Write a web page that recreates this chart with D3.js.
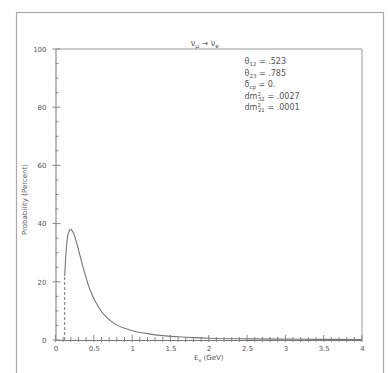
<!DOCTYPE html>
<html>
<head>
<meta charset="utf-8">
<script src="https://cdn.jsdelivr.net/npm/d3@7"></script>
<style>
  body { margin: 0; background: #fff; }
  text { font-family: "DejaVu Sans", sans-serif; fill: #555; }
</style>
</head>
<body>
<div id="chart"></div>
<script>
// energy (GeV) and oscillation probability (percent)
const energy = [0.12, 0.14, 0.17, 0.2, 0.23, 0.27, 0.32, 0.37, 0.42, 0.47, 0.52, 0.6, 0.7, 0.8, 0.9, 1.0, 1.2, 1.4, 1.6, 1.8, 2.0, 2.5, 3.0, 3.5, 4.0];
const prob = [22, 31, 37, 38, 37, 34, 29, 24, 19.6, 16, 13.2, 9.8, 7.0, 5.2, 4.0, 3.2, 2.2, 1.5, 1.1, 0.8, 0.6, 0.4, 0.3, 0.2, 0.15];
const threshold = [0.12, 22];
const xTicks = [0, 0.5, 1, 1.5, 2, 2.5, 3, 3.5, 4];
const yTicks = [0, 20, 40, 60, 80, 100];
// parameter labels: symbol, superscript, subscript, value
const paramSym = ['θ', 'θ', 'δ', 'dm', 'dm'];
const paramSup = ['', '', '', '2', '2'];
const paramSub = ['12', '23', 'cp', '32', '21'];
const paramVal = ['.523', '.785', '0.', '.0027', '.0001'];

const W = 388, H = 373;
const margin = { top: 49, right: 26, bottom: 33, left: 55.5 };
const width = W - margin.left - margin.right;
const height = H - margin.top - margin.bottom;

const root = d3.select('#chart').append('svg')
  .attr('width', W)
  .attr('height', H);

// outer frame
root.append('rect')
  .attr('x', 16.5).attr('y', 12.5)
  .attr('width', 367).attr('height', 400)
  .attr('fill', 'none')
  .attr('stroke', '#aaa')
  .attr('stroke-width', 1.2);

const svg = root.append('g')
  .attr('transform', `translate(${margin.left},${margin.top})`);

const x = d3.scaleLinear().domain([0, 4]).range([0, width]);
const y = d3.scaleLinear().domain([0, 100]).range([height, 0]);

// plot box top and right
svg.append('path')
  .attr('d', `M0,0H${width}V${height}`)
  .attr('fill', 'none')
  .attr('stroke', '#999');

// axes
const xAxis = svg.append('g')
  .attr('transform', `translate(0,${height})`)
  .call(d3.axisBottom(x).tickValues(xTicks).tickSize(0).tickPadding(6).tickFormat(d3.format('')));
const yAxis = svg.append('g')
  .call(d3.axisLeft(y).tickValues(yTicks).tickSize(0).tickPadding(9));
[xAxis, yAxis].forEach(a => {
  a.select('.domain').attr('stroke', '#777');
  a.selectAll('text').style('font-size', '7px').attr('fill', '#666');
});

// major ticks crossing the axes, minor ticks inside
svg.selectAll('.ytick').data(d3.range(0, 101, 5))
  .enter().append('line')
  .attr('x1', d => d % 20 === 0 ? -3 : 0)
  .attr('x2', d => d % 20 === 0 ? 5 : 3)
  .attr('y1', d => y(d)).attr('y2', d => y(d))
  .attr('stroke', '#888');
svg.selectAll('.xtick').data(d3.range(0, 41).map(d => d / 10))
  .enter().append('line')
  .attr('x1', d => x(d)).attr('x2', d => x(d))
  .attr('y1', height + 2)
  .attr('y2', d => (Math.round(d * 10) % 5 === 0) ? height - 5 : height - 3)
  .attr('stroke', '#888');

// threshold (dashed) and probability curve
svg.append('line')
  .attr('x1', x(threshold[0])).attr('x2', x(threshold[0]))
  .attr('y1', y(0)).attr('y2', y(threshold[1]))
  .attr('stroke', '#777')
  .attr('stroke-dasharray', '3,2');

const line = d3.line()
  .x((d, i) => x(energy[i]))
  .y(d => y(d))
  .curve(d3.curveMonotoneX);
svg.append('path')
  .datum(prob)
  .attr('d', line)
  .attr('fill', 'none')
  .attr('stroke', '#777')
  .attr('stroke-width', 1.1);

// title
const title = svg.append('text')
  .attr('x', x(1.95))
  .attr('y', -3)
  .attr('text-anchor', 'middle')
  .style('font-size', '8px');
title.append('tspan').text('ν');
title.append('tspan').attr('dy', 2).style('font-size', '6px').text('μ');
title.append('tspan').attr('dy', -2).text(' → ν');
title.append('tspan').attr('dy', 2).style('font-size', '6px').text('e');

// parameters
const lab = svg.append('g').selectAll('text').data(paramSym)
  .enter().append('text')
  .attr('x', 189)
  .attr('y', (d, i) => 15 + i * 11.5)
  .style('font-size', '8px');
lab.append('tspan').text(d => d);
lab.append('tspan').attr('dy', -3).style('font-size', '5.5px').text((d, i) => paramSup[i]);
lab.append('tspan').attr('dy', (d, i) => paramSup[i] ? 5 : 2).attr('dx', (d, i) => paramSup[i] ? -3 : 0)
  .style('font-size', '5.5px').text((d, i) => paramSub[i]);
lab.append('tspan').attr('dy', -2).text((d, i) => ' = ' + paramVal[i]);

// axis labels
const xl = svg.append('text')
  .attr('x', x(2))
  .attr('y', height + 20)
  .attr('text-anchor', 'middle')
  .style('font-size', '7px');
xl.append('tspan').text('E');
xl.append('tspan').attr('dy', 2).style('font-size', '5px').text('ν');
xl.append('tspan').attr('dy', -2).text(' (GeV)');
svg.append('text')
  .attr('transform', 'rotate(-90)')
  .attr('x', -(height / 2 + 5))
  .attr('y', -29)
  .attr('text-anchor', 'middle')
  .style('font-size', '7px')
  .text('Probability (Percent)');
</script>
</body>
</html>
